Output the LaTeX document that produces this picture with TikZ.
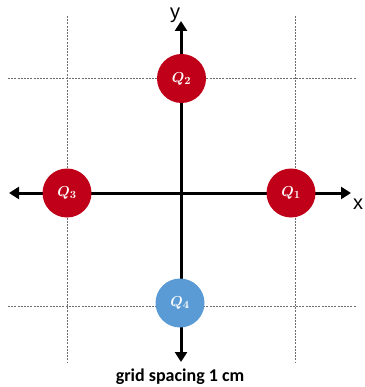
\documentclass[tikz,border=0pt]{standalone}
\usepackage{fontspec}
\newfontfamily\calib{Carlito}
\newfontfamily\axisfont{Liberation Sans}
\usetikzlibrary{arrows.meta}
\definecolor{qred}{RGB}{192,0,24}
\definecolor{qblue}{RGB}{91,155,213}
\definecolor{gridgray}{RGB}{110,110,110}
\tikzset{
  gridline/.style={draw=gridgray, line width=1pt, dash pattern=on 2pt off 1.2pt},
  axis/.style={line width=3pt, {Triangle[length=10pt,width=12pt]}-{Triangle[length=10pt,width=12pt]}},
  charge/.style={circle, minimum size=49pt, inner sep=0pt, text=white, font=\fontsize{15}{17}\selectfont\boldmath},
  axlabel/.style={font=\axisfont\fontsize{20}{22}\selectfont, inner sep=0pt}
}
\begin{document}
\begin{tikzpicture}[x=1pt,y=-1pt]
\useasboundingbox (0,0) rectangle (364,387);
% grid
\coordinate (g1t) at (67.5,16); \coordinate (g1b) at (67.5,363);
\coordinate (g2t) at (295.5,16); \coordinate (g2b) at (295.5,363);
\coordinate (h1l) at (8,79); \coordinate (h1r) at (356,79);
\coordinate (h2l) at (8,306); \coordinate (h2r) at (356,306);
\draw[gridline] (g1t) -- (g1b);
\draw[gridline] (g2t) -- (g2b);
\draw[gridline] (h1l) -- (h1r);
\draw[gridline] (h2l) -- (h2r);
% axes
\coordinate (xl) at (9,193); \coordinate (xr) at (351,193);
\coordinate (yt) at (181,21); \coordinate (yb) at (181,362);
\draw[axis] (xl) -- (xr);
\draw[axis] (yb) -- (yt);
\node[axlabel] (xlab) at (358,204) {x};
\node[axlabel] (ylab) at (175,15) {y};
% charges
\node[charge, fill=qred] (q1) at (291,193) {$Q_1$};
\node[charge, fill=qred] (q2) at (181.5,78.5) {$Q_2$};
\node[charge, fill=qred] (q3) at (67,193) {$Q_3$};
\node[charge, fill=qblue] (q4) at (180,303) {$Q_4$};
% caption
\node[font=\calib\bfseries\fontsize{18}{20}\selectfont, inner sep=0pt] (cap) at (180,377) {grid spacing 1 cm};
\end{tikzpicture}
\end{document}
